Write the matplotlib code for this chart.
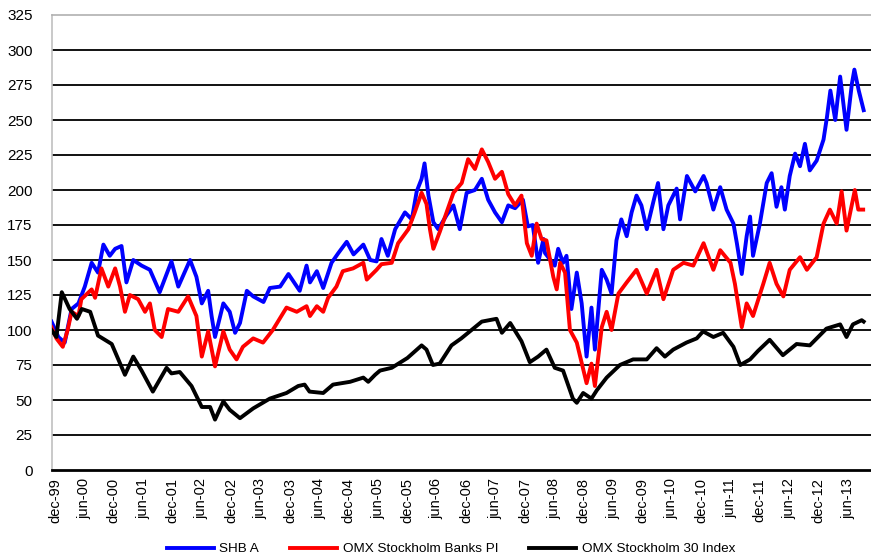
import numpy as np
import matplotlib
matplotlib.use('Agg')
import matplotlib.pyplot as plt

plt.rcParams['font.family'] = ['Liberation Sans', 'DejaVu Sans']

#----------- DATA (months after dec-99, index level) -----------#
shb_m = [-0.7, 0.7, 2, 3.4, 4.8, 6.1, 7.5, 8.8, 9.9, 11.2, 12.3, 13.6, 14.6, 16, 17.7, 19.4, 21.4, 23.8,
         25.2, 27.6, 28.9, 30, 31.3, 32, 32.7, 34.4, 35.7, 36.8, 37.8, 39.2, 40.5, 42.6, 43.9, 46, 47.7,
         50, 51.4, 52.1, 53.5, 54.8, 56.5, 57.9, 59.6, 61, 63, 64.4, 65.7, 66.7, 68, 69.5, 71.5, 72.9,
         73.9, 74.9, 75.5, 76.3, 77.3, 78.3, 80, 81.4, 82.7, 84.1, 85.8, 87.2, 88.5, 89.9, 91.3, 92.6,
         94, 95.6, 96.6, 97.6, 98.7, 99.8, 100.1, 102.1, 102.8, 103.8, 104.5, 105.5, 106.6, 107.6,
         108.6, 109.6, 110.3, 111.7, 112.7, 113.7, 114.7, 115.7, 116.8, 117.8, 118.8, 119.8, 120.9,
         122.2, 123.2, 124.3, 125.3, 127, 127.7, 129.1, 130.8, 132.5, 133.1, 134.5, 135.9, 137.2,
         138.6, 139.3, 140.3, 141.3, 142, 142.6, 144, 145.4, 146.4, 147.4, 148.4, 149.1, 150.1, 151.2,
         152.2, 153.2, 154.2, 155.6, 157, 157.7, 158.4, 159.4, 160.4, 161.7, 162.8, 163.3, 164.2, 165.2]
shb = [106, 95, 91, 115, 119, 131, 148, 141, 161, 153, 158, 160, 134, 150, 146, 143, 127, 149,
       131, 150, 138, 119, 128, 110, 95, 119, 113, 98, 105, 128, 124, 120, 130, 131, 140,
       128, 146, 134, 142, 130, 148, 155, 163, 154, 161, 150, 149, 165, 153, 172, 184, 179,
       199, 208, 219, 196, 177, 172, 182, 189, 172, 198, 200, 208, 193, 184, 177, 189,
       187, 193, 174, 175, 148, 165, 155, 146, 158, 148, 153, 115, 141, 119,
       81, 116, 86, 143, 136, 126, 164, 179, 167, 184, 196, 189, 172,
       191, 205, 172, 189, 201, 179, 210, 199, 210, 205, 186, 202, 186,
       176, 162, 140, 167, 181, 153, 176, 205, 212, 188, 202, 186, 210, 226,
       217, 233, 214, 221, 236, 252, 271, 250, 281, 243, 276, 286, 271, 257]

banks_m = [-0.7, 0.3, 1.6, 2.6, 3.4, 4.8, 5.4, 7.5, 8.2, 9.5, 10.9, 12.3, 13.3, 14.3, 15.3, 17, 18.4,
           19.4, 20.4, 21.8, 23.1, 25.2, 27.2, 28.9, 30, 31.3, 32.7, 34.4, 35.7, 37.1, 38.4, 40.5,
           42.5, 44.5, 47.3, 49.4, 51.4, 52.1, 53.5, 54.8, 55.8, 57.5, 58.8, 60.9, 63, 63.7, 65.7,
           66.7, 68.8, 70.1, 72.2, 73.5, 74.9, 75.9, 76.6, 77.3, 78.6, 80, 81.4, 83.1, 84.4, 85.8,
           87.2, 88.5, 89.9, 91.3, 92.6, 94, 95.3, 96.4, 97.4, 98.4, 99.4, 100.4, 101.8, 102.5,
           103.2, 104.2, 105.2, 106.6, 108.6, 109.6, 110.3, 111.7, 112.7, 113.7, 115.1, 116.8,
           118.8, 120.9, 122.9, 124.3, 126.3, 128.4, 130.4, 132.5, 134.5, 135.9, 138, 138.9, 140.3,
           141.3, 142.6, 144.7, 146, 147.4, 148.8, 150.1, 152.2, 153.6, 155.6, 157, 158.3, 159.7,
           160.7, 161.7, 163.4, 164.1, 165.1]
banks = [102, 94, 88, 100, 113, 110, 122, 129, 123, 144, 131, 144, 131, 113, 125, 122, 113,
         119, 100, 95, 115, 113, 124, 110, 81, 99, 74, 99, 86, 79, 88, 94,
         91, 100, 116, 113, 117, 110, 117, 113, 123, 131, 142, 144, 148, 136, 143,
         147, 148, 162, 172, 184, 198, 190, 172, 158, 170, 184, 198, 205, 222, 215,
         229, 220, 208, 213, 197, 189, 196, 162, 153, 176, 165, 164, 138, 129,
         148, 141, 100, 91, 62, 76, 60, 102, 113, 100, 126, 134,
         143, 126, 143, 122, 143, 148, 146, 162, 143, 157, 148, 133, 102,
         119, 110, 133, 148, 133, 124, 143, 152, 143, 152, 176, 186, 176,
         199, 171, 200, 186, 186]

omx_m = [-0.7, 0.3, 1.4, 3, 4.5, 5.5, 7.2, 8.8, 11.6, 14.3, 16, 17.7, 20, 22.8, 23.8, 25.5, 27.9,
         30, 31.7, 32.7, 34.4, 35.7, 37.8, 40.5, 43.9, 47.3, 49.7, 51, 52, 54.8, 56.8, 60.3, 63,
         64, 65.4, 66.4, 68.8, 72, 74.9, 75.9, 77.2, 78.6, 81, 83, 85.1, 87.2, 90.2, 91.3, 93,
         95.3, 97, 98.7, 100.4, 102.1, 103.8, 105.8, 106.6, 107.9, 109.6, 110.7, 112.7, 115.4,
         118.1, 120.9, 122.9, 124.6, 126.3, 129, 131.1, 132.4, 134.5, 136.5, 138.6, 140, 142,
         143.6, 146, 148.7, 151.5, 154.2, 157.6, 160.4, 161.7, 163, 164.8, 165.2]
omx = [100, 95, 127, 115, 108, 115, 113, 96, 90, 68, 81, 71, 56, 73, 69, 70, 60,
       45, 45, 36, 49, 43, 37, 44, 51, 55, 60, 61, 56, 55, 61, 63, 66,
       63, 68, 71, 73, 80, 89, 86, 75, 76, 89, 94, 100, 106, 108, 98, 105,
       92, 77, 81, 86, 73, 71, 51, 48, 55, 51, 57, 66, 75,
       79, 79, 87, 81, 86, 91, 94, 99, 95, 98, 88, 75, 79,
       85, 93, 82, 90, 89, 101, 104, 95, 104, 107, 106]

tick_labels = ['dec-99', 'jun-00', 'dec-00', 'jun-01', 'dec-01', 'jun-02', 'dec-02', 'jun-03',
               'dec-03', 'jun-04', 'dec-04', 'jun-05', 'dec-05', 'jun-06', 'dec-06', 'jun-07',
               'dec-07', 'jun-08', 'dec-08', 'jun-09', 'dec-09', 'jun-10', 'dec-10', 'jun-11',
               'dec-11', 'jun-12', 'dec-12', 'jun-13']

#----------- PLOT -----------#
fig = plt.figure(figsize=(8.71, 5.59), dpi=100)
ax = fig.add_axes([52/871., 1-470/559., 1-52/871., (470-15)/559.])

ax.plot(shb_m, shb, color='#0000ff', lw=2.8, label='SHB A', zorder=3)
ax.plot(banks_m, banks, color='#ff0000', lw=2.8, label='OMX Stockholm Banks PI', zorder=4)
ax.plot(omx_m, omx, color='#000000', lw=2.8, label='OMX Stockholm 30 Index', zorder=5)

ax.set_ylim(0, 325)
ax.set_yticks(np.arange(0, 326, 25))
ax.set_xlim(-0.6, 166.7)
ax.set_xticks(np.arange(0, 6*len(tick_labels), 6))
ax.set_xticklabels(tick_labels, rotation=90, fontsize=10.5)
ax.tick_params(axis='y', length=0, pad=14, labelsize=11)
ax.tick_params(axis='x', length=0, pad=6)

for v in np.arange(25, 301, 25):
    ax.axhline(v, color='#111111', lw=1.4, zorder=1)

ax.spines['left'].set_color('#c0c0c0')
ax.spines['left'].set_linewidth(1.2)
ax.spines['top'].set_color('#b0b0b0')
ax.spines['top'].set_linewidth(1.2)
ax.spines['right'].set_visible(False)
ax.spines['bottom'].set_color('#000000')
ax.spines['bottom'].set_linewidth(2)

fig.legend(loc='center', bbox_to_anchor=(451/871., 1-549/559.), ncol=3, frameon=False,
           fontsize=9.7, handlelength=3.5, handletextpad=0.4, columnspacing=2.3, borderpad=0)

fig.savefig('out.png', dpi=100)
